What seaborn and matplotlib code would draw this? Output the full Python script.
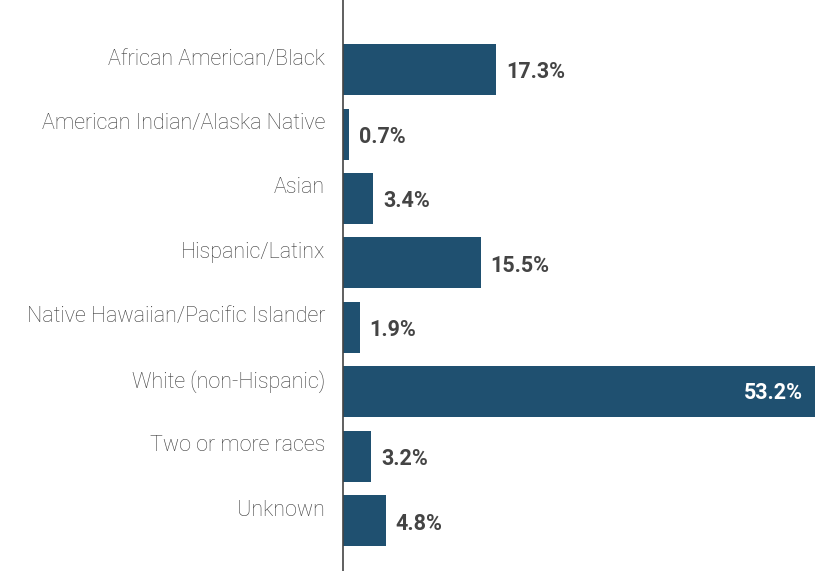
import matplotlib
matplotlib.use("Agg")
import matplotlib.pyplot as plt
import matplotlib.transforms as mtransforms
import seaborn as sns
import pandas as pd

categories = [
    "African American/Black",
    "American Indian/Alaska Native",
    "Asian",
    "Hispanic/Latinx",
    "Native Hawaiian/Pacific Islander",
    "White (non-Hispanic)",
    "Two or more races",
    "Unknown",
]
percent = [17.3, 0.7, 3.4, 15.5, 1.9, 53.2, 3.2, 4.8]

BAR_COLOR = "#1f5070"
LABEL_COLOR = "#3c3c3c"
VALUE_COLOR = "#444444"

sns.set_theme(style="white")
plt.rcParams["font.family"] = ["Roboto", "DejaVu Sans"]

df = pd.DataFrame({"Group": categories, "Percent": percent})

fig = plt.figure(figsize=(8.15, 5.71), dpi=100)
ax = fig.add_axes([343 / 815, 0.0, 1 - 343 / 815, 1.0])

sns.barplot(data=df, y="Group", x="Percent", color=BAR_COLOR, orient="h",
            width=0.79, saturation=1, linewidth=0, ax=ax)

ax.set_xlim(0, 53.2)
ax.set_ylim(7.78, -1.08)
ax.set_xlabel("")
ax.set_ylabel("")
ax.set_xticks([])

for side in ["top", "right", "bottom"]:
    ax.spines[side].set_visible(False)
ax.spines["left"].set_color("#444444")
ax.spines["left"].set_linewidth(1.2)

ax.tick_params(axis="y", length=0, pad=13)
shift = mtransforms.ScaledTranslation(0, 13 / 100, fig.dpi_scale_trans)
for lbl in ax.get_yticklabels():
    lbl.set_fontsize(15.5)
    lbl.set_fontweight("light")
    lbl.set_color(LABEL_COLOR)
    lbl.set_transform(lbl.get_transform() + shift)

# value labels
for i, v in enumerate(percent):
    txt = f"{v:.1f}%"
    if v == max(percent):
        ax.annotate(txt, (v, i), xytext=(-9, -1), textcoords="offset points",
                    ha="right", va="center", color="white",
                    fontsize=15.5, fontweight="bold")
    else:
        ax.annotate(txt, (v, i), xytext=(7, -2), textcoords="offset points",
                    ha="left", va="center", color=VALUE_COLOR,
                    fontsize=15.5, fontweight="bold")

fig.savefig("out.png", dpi=100)
